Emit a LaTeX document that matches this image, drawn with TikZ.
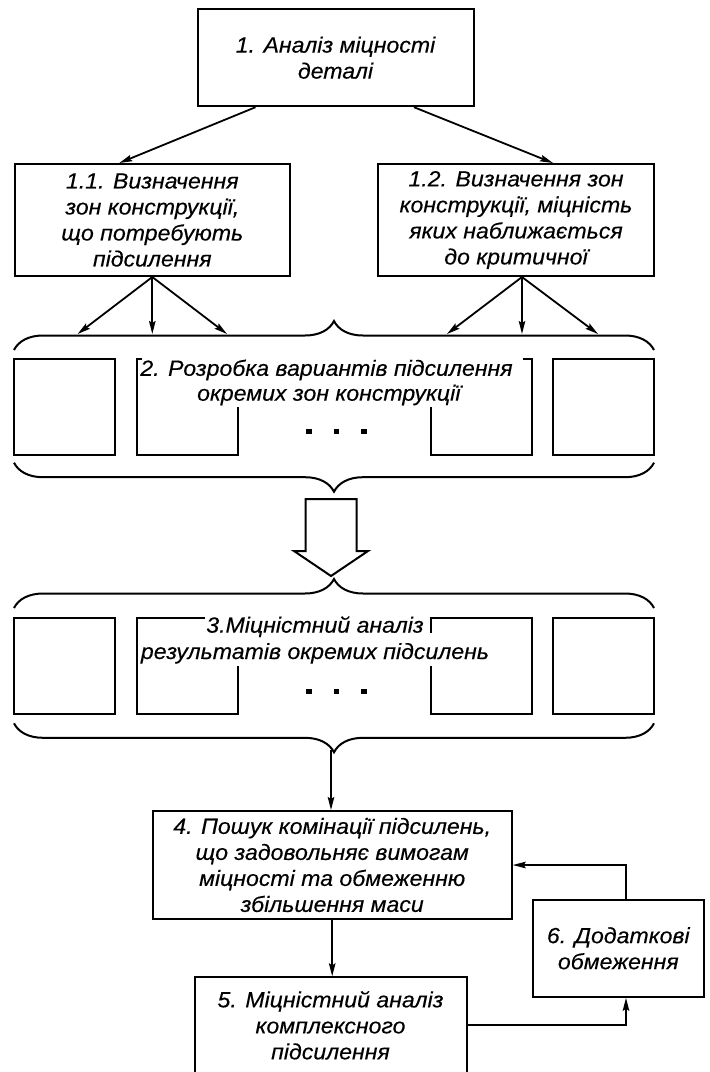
\documentclass[tikz,border=0pt]{standalone}
\usepackage{fontspec}
\setmainfont{Liberation Sans}[FakeStretch=1.05,FakeBold=0.3]
\usetikzlibrary{arrows.meta,decorations.pathreplacing}

\tikzset{
  box/.style={draw,line width=2pt,inner sep=0pt,align=center,
              font=\fontsize{22}{26}\selectfont\itshape},
  cell/.style={draw,line width=2pt,minimum width=101pt,
               minimum height=96pt,inner sep=0pt},
  rowtxt/.style={font=\fontsize{22}{26}\selectfont\itshape,inner sep=0pt},
  arr/.style={-{Stealth[length=13pt,width=6.5pt,inset=2pt]},line width=1.8pt},
  brc/.style={decorate,decoration={brace,amplitude=29pt},line width=2pt},
  dot/.style={fill,minimum size=5.5pt,inner sep=0pt},
}

\begin{document}
\begin{tikzpicture}[x=1pt,y=-1pt]
  \useasboundingbox (0,0) rectangle (710,1072);
  \clip (0,0) rectangle (710,1072);

  % analysis of the part
  \node[box,minimum width=276pt,minimum height=97pt] (n1) at (335.5,57.7)
    {1. Аналіз міцності\\деталі};
  \node[box,minimum width=275pt,minimum height=112pt] (n11) at (152.3,220)
    {1.1. Визначення\\зон конструкції,\\що потребують\\підсилення};
  \node[box,minimum width=276pt,minimum height=112pt] (n12) at (516,220)
    {1.2. Визначення зон\\конструкції, міцність\\яких наближається\\до критичної};

  \draw[arr] ([xshift=-80pt]n1.south) -- ([xshift=-33pt]n11.north);
  \draw[arr] ([xshift=78.5pt]n1.south) -- ([xshift=37pt]n12.north);

  % variants of reinforcement
  \draw[brc] (14,350) -- (654,350);
  \coordinate (a1) at (77.6,334);
  \coordinate (a2) at (152.3,334);
  \coordinate (a3) at (227,334);
  \coordinate (a4) at (447,334);
  \coordinate (a5) at (522,334);
  \coordinate (a6) at (598,334);
  \foreach \c in {a1,a2,a3} \draw[arr] (n11.south) -- (\c);
  \foreach \c in {a4,a5,a6} \draw[arr] ([xshift=6pt]n12.south) -- (\c);

  \node[cell] (c21) at (64.4,406.7) {};
  \node[cell] (c22) at (187.2,406.7) {};
  \node[cell] (c23) at (481.3,406.7) {};
  \node[cell] (c24) at (603.3,406.7) {};
  \fill[white] (141.7,356.5) rectangle (523,383);
  \fill[white] (190,383) rectangle (470,407);
  \node[rowtxt] (t21) at (326.5,370) {2. Розробка вариантів підсилення};
  \node[rowtxt] (t22) at (328.8,395) {окремих зон конструкції};
  \foreach \x [count=\i] in {309,336.5,364}
    \node[dot] (d2\i) at (\x,431.7) {};
  \draw[brc] (654,462.7) -- (14,462.7);

  % hollow arrow
  \draw[line width=2pt] (305.7,499) -- (356.7,499) -- (356.7,551)
    -- (368,551) -- (331,576) -- (294,551) -- (305.7,551) -- cycle;

  % strength analysis of variants
  \draw[brc] (14,608) -- (654,608);
  \node[cell] (c31) at (64.4,666.4) {};
  \node[cell] (c32) at (187.2,666.4) {};
  \node[cell] (c33) at (481.3,666.4) {};
  \node[cell] (c34) at (603.3,666.4) {};
  \fill[white] (205,615.3) rectangle (428,633.3);
  \fill[white] (139,633.3) rectangle (492,666);
  \node[rowtxt] (t31) at (315,626.7) {3.Міцністний аналіз};
  \node[rowtxt] (t32) at (315,653.3) {результатів окремих підсилень};
  \foreach \x [count=\i] in {309,336.5,364}
    \node[dot] (d3\i) at (\x,691.7) {};
  \draw[brc] (654,723.3) -- (14,723.3);
  \coordinate (q) at (331,750);

  % search and check
  \node[box,minimum width=359pt,minimum height=108pt] (n4) at (332.2,865)
    {4. Пошук комінації підсилень,\\що задовольняє вимогам\\міцності та обмеженню\\збільшення маси};
  \node[box,minimum width=272pt,minimum height=96pt] (n5) at (330.5,1025.3)
    {5. Міцністний аналіз\\комплексного\\підсилення};
  \node[box,minimum width=171pt,minimum height=97pt] (n6) at (618.3,948.3)
    {6. Додаткові\\обмеження};

  \draw[arr] (q) -- (q |- n4.north);
  \draw[arr] (n4.south) -- (n4.south |- n5.north);
  \draw[arr] ([xshift=7.7pt]n6.north) |- (n4.east);
  \draw[arr] (n5.east) -| ([xshift=7.7pt]n6.south);
\end{tikzpicture}
\end{document}
